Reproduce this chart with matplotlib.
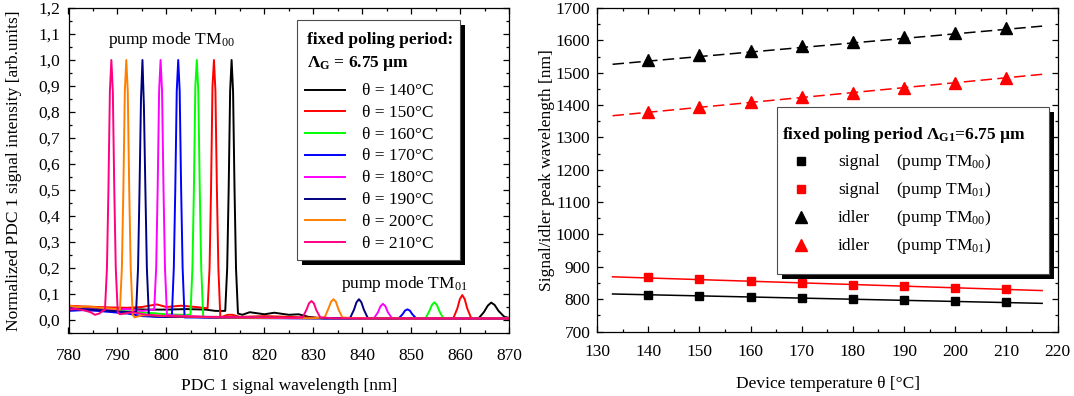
import matplotlib
matplotlib.use("Agg")
import matplotlib.pyplot as plt
from matplotlib.lines import Line2D
from matplotlib.patches import Rectangle
from matplotlib.ticker import MultipleLocator, FuncFormatter

plt.rcParams["font.family"] = ["Liberation Serif", "DejaVu Serif"]
plt.rcParams["font.size"] = 12.5
plt.rcParams["mathtext.fontset"] = "custom"
plt.rcParams["mathtext.rm"] = "Liberation Serif"
plt.rcParams["mathtext.default"] = "regular"

W, H = 1074, 396

# ---- left panel: PDC spectra ----
temps_label = ["140", "150", "160", "170", "180", "190", "200", "210"]
spec_colors = ["#000000", "#ff0000", "#00ff00", "#0000ff",
               "#ff00ff", "#000080", "#ff8000", "#ff0080"]

wl_140 = [780, 784, 788, 792, 796, 800, 804, 808, 810, 812.0, 812.4, 812.7, 813.0, 813.3, 813.6,
          813.9, 814.2, 814.6, 815.5, 817, 820, 822, 825, 827, 829, 832, 840, 850, 860, 863.8,
          864.8, 865.6, 866.3, 867.0, 867.8, 869, 870]
int_140 = [0.045, 0.045, 0.043, 0.042, 0.04, 0.04, 0.042, 0.04, 0.035, 0.035, 0.2, 0.5, 0.88, 1.0,
           0.88, 0.5, 0.2, 0.025, 0.02, 0.03, 0.022, 0.028, 0.02, 0.022, 0.012, 0.006, 0.006,
           0.006, 0.006, 0.008, 0.03, 0.055, 0.067, 0.058, 0.035, 0.012, 0.008]

wl_150 = [780, 783, 786, 789, 792, 795, 798, 800, 803, 806, 808.4, 808.8, 809.1, 809.4, 809.7,
          810.0, 810.3, 810.6, 811.0, 812.5, 813.5, 815, 820, 825, 828, 835, 845, 858.6, 859.4,
          859.9, 860.4, 860.9, 861.4, 862.2, 865, 870]
int_150 = [0.055, 0.052, 0.05, 0.048, 0.047, 0.05, 0.06, 0.05, 0.055, 0.05, 0.045, 0.2, 0.5, 0.9,
           1.0, 0.88, 0.5, 0.2, 0.01, 0.02, 0.02, 0.012, 0.015, 0.012, 0.01, 0.006, 0.006, 0.008,
           0.045, 0.08, 0.096, 0.08, 0.045, 0.008, 0.006, 0.006]

wl_160 = [780, 784, 788, 792, 796, 800, 803, 804.9, 805.3, 805.6, 805.9, 806.2, 806.5, 806.8,
          807.1, 807.5, 810, 815, 820, 830, 845, 852.9, 853.7, 854.2, 854.7, 855.2, 855.7, 856.5,
          860, 870]
int_160 = [0.04, 0.04, 0.038, 0.033, 0.028, 0.022, 0.02, 0.02, 0.2, 0.5, 0.9, 1.0, 0.88, 0.5, 0.2,
           0.012, 0.012, 0.012, 0.009, 0.007, 0.006, 0.007, 0.035, 0.058, 0.068, 0.058, 0.035,
           0.007, 0.006, 0.006]

wl_170 = [780, 783, 786, 789, 792, 795, 798, 801.1, 801.5, 801.8, 802.1, 802.4, 802.7, 803.0,
          803.3, 803.7, 806, 810, 820, 830, 840, 847.4, 848.2, 848.7, 849.2, 849.7, 850.2, 851.0,
          855, 870]
int_170 = [0.035, 0.038, 0.035, 0.03, 0.025, 0.015, 0.012, 0.012, 0.2, 0.5, 0.88, 1.0, 0.88, 0.5,
           0.2, 0.01, 0.01, 0.008, 0.007, 0.006, 0.006, 0.006, 0.022, 0.036, 0.041, 0.036, 0.022,
           0.006, 0.005, 0.005]

wl_180 = [780, 783, 786, 789, 792, 795, 797.5, 797.9, 798.2, 798.5, 798.8, 799.1, 799.4, 799.7,
          800.1, 801, 805, 810, 820, 830, 842.4, 843.2, 843.7, 844.2, 844.7, 845.2, 846.0, 850, 870]
int_180 = [0.045, 0.043, 0.04, 0.04, 0.042, 0.035, 0.04, 0.2, 0.5, 0.88, 1.0, 0.88, 0.5, 0.2, 0.02,
           0.018, 0.015, 0.01, 0.008, 0.007, 0.008, 0.03, 0.053, 0.062, 0.053, 0.03, 0.008, 0.006,
           0.006]

wl_190 = [780, 783, 786, 789, 791, 793.8, 794.2, 794.5, 794.8, 795.1, 795.4, 795.7, 796.0, 796.4,
          797, 800, 805, 810, 820, 830, 837.5, 838.3, 838.8, 839.3, 839.8, 840.3, 841.1, 845, 860,
          870]
int_190 = [0.04, 0.042, 0.038, 0.035, 0.032, 0.03, 0.2, 0.5, 0.85, 1.0, 0.82, 0.5, 0.2, 0.02, 0.015,
           0.012, 0.011, 0.01, 0.008, 0.007, 0.008, 0.04, 0.068, 0.08, 0.068, 0.04, 0.008, 0.006,
           0.006, 0.006]

wl_200 = [780, 782, 784, 786, 788, 790, 790.5, 790.9, 791.2, 791.5, 791.8, 792.1, 792.4, 792.7,
          793.1, 793.5, 795, 797, 800, 805, 810, 820, 830, 832.3, 833.1, 833.6, 834.1, 834.6, 835.1,
          835.9, 838, 850, 870]
int_200 = [0.055, 0.05, 0.052, 0.048, 0.045, 0.042, 0.04, 0.2, 0.5, 0.88, 1.0, 0.88, 0.5, 0.2, 0.02,
           0.01, 0.018, 0.018, 0.015, 0.013, 0.01, 0.008, 0.007, 0.01, 0.045, 0.07, 0.08, 0.07,
           0.042, 0.01, 0.007, 0.006, 0.006]

wl_210 = [780, 781.5, 783, 784.5, 785.4, 786.3, 787.0, 787.45, 787.85, 788.15, 788.45, 788.75,
          789.05, 789.35, 789.65, 790.05, 790.5, 791.5, 793, 796, 800, 805, 810, 820, 826, 827.8,
          828.6, 829.1, 829.6, 830.1, 830.6, 831.4, 834, 840, 850, 860, 870]
int_210 = [0.04, 0.042, 0.038, 0.03, 0.02, 0.025, 0.035, 0.04, 0.2, 0.5, 0.88, 1.0, 0.88, 0.5, 0.2,
           0.03, 0.022, 0.025, 0.03, 0.02, 0.015, 0.013, 0.012, 0.01, 0.008, 0.01, 0.04, 0.064,
           0.073, 0.064, 0.038, 0.01, 0.007, 0.006, 0.006, 0.006, 0.006]

spectra_wl = [wl_140, wl_150, wl_160, wl_170, wl_180, wl_190, wl_200, wl_210]
spectra_int = [int_140, int_150, int_160, int_170, int_180, int_190, int_200, int_210]

# ---- right panel: peak wavelengths vs temperature ----
temperature = [140, 150, 160, 170, 180, 190, 200, 210]
signal_tm00 = [814, 810, 807, 803, 800, 796, 794, 791]
signal_tm01 = [867, 861, 856, 851, 845, 840, 835, 831]
idler_tm00 = [1540, 1554, 1567, 1581, 1595, 1609, 1624, 1637]
idler_tm01 = [1380, 1395, 1409, 1425, 1438, 1453, 1468, 1483]

fit_temp = [133, 217]
fit_signal_tm00 = [816, 787]
fit_signal_tm01 = [869, 826.5]
fit_idler_tm00 = [1526, 1644]
fit_idler_tm01 = [1367, 1495]


def fxy(x, y):
    return (x / W, 1 - y / H)


def style_axes(ax):
    ax.tick_params(which="both", direction="in", top=True, right=True, width=0.9)
    ax.tick_params(which="major", length=4.5)
    ax.tick_params(which="minor", length=2.5)
    for s in ax.spines.values():
        s.set_linewidth(0.9)


def box(fig, x0, y0, x1, y1, shift=5):
    fig.add_artist(Rectangle(fxy(x0 + shift, y1 + shift), (x1 - x0) / W, (y1 - y0) / H,
                             transform=fig.transFigure, facecolor="black", edgecolor="none",
                             zorder=3))
    fig.add_artist(Rectangle(fxy(x0, y1), (x1 - x0) / W, (y1 - y0) / H,
                             transform=fig.transFigure, facecolor="white", edgecolor="0.3",
                             lw=0.8, zorder=3.5))


fig = plt.figure(figsize=(W / 100, H / 100), dpi=100)

# left axes
ax1 = fig.add_axes([68.5 / W, 1 - 333 / H, 440.8 / W, 325 / H])
for wl, it, c in zip(spectra_wl, spectra_int, spec_colors):
    ax1.plot(wl, it, color=c, lw=1.4)
ax1.set_xlim(780, 870)
ax1.set_ylim(-0.05, 1.2)
ax1.xaxis.set_major_locator(MultipleLocator(10))
ax1.xaxis.set_minor_locator(MultipleLocator(5))
ax1.yaxis.set_major_locator(MultipleLocator(0.1))
ax1.yaxis.set_minor_locator(MultipleLocator(0.05))
ax1.yaxis.set_major_formatter(FuncFormatter(lambda v, p: f"{v:.1f}".replace(".", ",").replace("-0,0", "0,0")))
style_axes(ax1)
ax1.tick_params(axis="x", pad=11)
ax1.tick_params(axis="y", pad=6)

fig.text(*fxy(289, 390.5), "PDC 1 signal wavelength [nm]", ha="center", va="baseline")
fig.text(*fxy(14, 170.5), "Normalized PDC 1 signal intensity [arb.units]", rotation=90,
         ha="center", va="center", rotation_mode="anchor")
fig.text(*fxy(107.8, 44), "pump mode TM$_{00}$", ha="left", va="baseline")
fig.text(*fxy(341, 287.8), "pump mode TM$_{01}$", ha="left", va="baseline")

# left legend
box(fig, 296.7, 20, 460, 260)
fig.text(*fxy(306.7, 44.3), "fixed poling period:", weight="bold", va="baseline", zorder=4)
fig.text(*fxy(306.7, 66.7), "Λ$_{G}$ = 6.75 µm", weight="bold", va="baseline", zorder=4)
for i, (t, c) in enumerate(zip(temps_label, spec_colors)):
    yb = 95 + 21.8 * i
    fig.add_artist(Line2D([305 / W, 345 / W], [1 - (yb - 5.5) / H] * 2, color=c, lw=1.4,
                          transform=fig.transFigure, zorder=4))
    fig.text(*fxy(361.7, yb), f"θ = {t}°C", va="baseline", zorder=4)

# right axes
ax2 = fig.add_axes([597.2 / W, 1 - 331.5 / H, 460.3 / W, 323.5 / H])
ax2.plot(fit_temp, fit_signal_tm00, color="black", lw=1.1)
ax2.plot(fit_temp, fit_signal_tm01, color="#ff0000", lw=1.1)
ax2.plot(fit_temp, fit_idler_tm00, color="black", lw=1.1, dashes=(7.5, 3.5))
ax2.plot(fit_temp, fit_idler_tm01, color="#ff0000", lw=1.1, dashes=(7.5, 3.5))
ax2.plot(temperature, signal_tm00, "s", color="black", ms=6.3)
ax2.plot(temperature, signal_tm01, "s", color="#ff0000", ms=6.3)
ax2.plot(temperature, idler_tm00, "^", color="black", ms=8.5)
ax2.plot(temperature, idler_tm01, "^", color="#ff0000", ms=8.5)
ax2.set_xlim(130, 220)
ax2.set_ylim(700, 1700)
ax2.xaxis.set_major_locator(MultipleLocator(10))
ax2.xaxis.set_minor_locator(MultipleLocator(5))
ax2.yaxis.set_major_locator(MultipleLocator(100))
ax2.yaxis.set_minor_locator(MultipleLocator(50))
style_axes(ax2)
ax2.tick_params(axis="x", pad=9)
ax2.tick_params(axis="y", pad=5)

fig.text(*fxy(827.5, 388), "Device temperature θ [°C]", ha="center", va="baseline")
fig.text(*fxy(547, 170), "Signal/idler peak wavelength [nm]", rotation=90,
         ha="center", va="center", rotation_mode="anchor")

# right legend
box(fig, 777, 106.6, 1048.5, 273.5)
fig.text(*fxy(782, 139.3), "fixed poling period Λ$_{G1}$=6.75 µm", weight="bold",
         va="baseline", zorder=4)
leg_rows = [("s", "black", "signal", "00"), ("s", "#ff0000", "signal", "01"),
            ("^", "black", "idler", "00"), ("^", "#ff0000", "idler", "01")]
for i, (m, c, name, mode) in enumerate(leg_rows):
    yb = 166 + 28 * i
    fig.add_artist(Line2D([801 / W], [1 - (yb - 5) / H], marker=m, color=c, ls="none",
                          ms=6.3 if m == "s" else 8, transform=fig.transFigure, zorder=4))
    fig.text(*fxy(838, yb), name, va="baseline", zorder=4)
    fig.text(*fxy(896, yb), f"(pump TM$_{{{mode}}}$)", va="baseline", zorder=4)

fig.savefig("out.png", dpi=100)
